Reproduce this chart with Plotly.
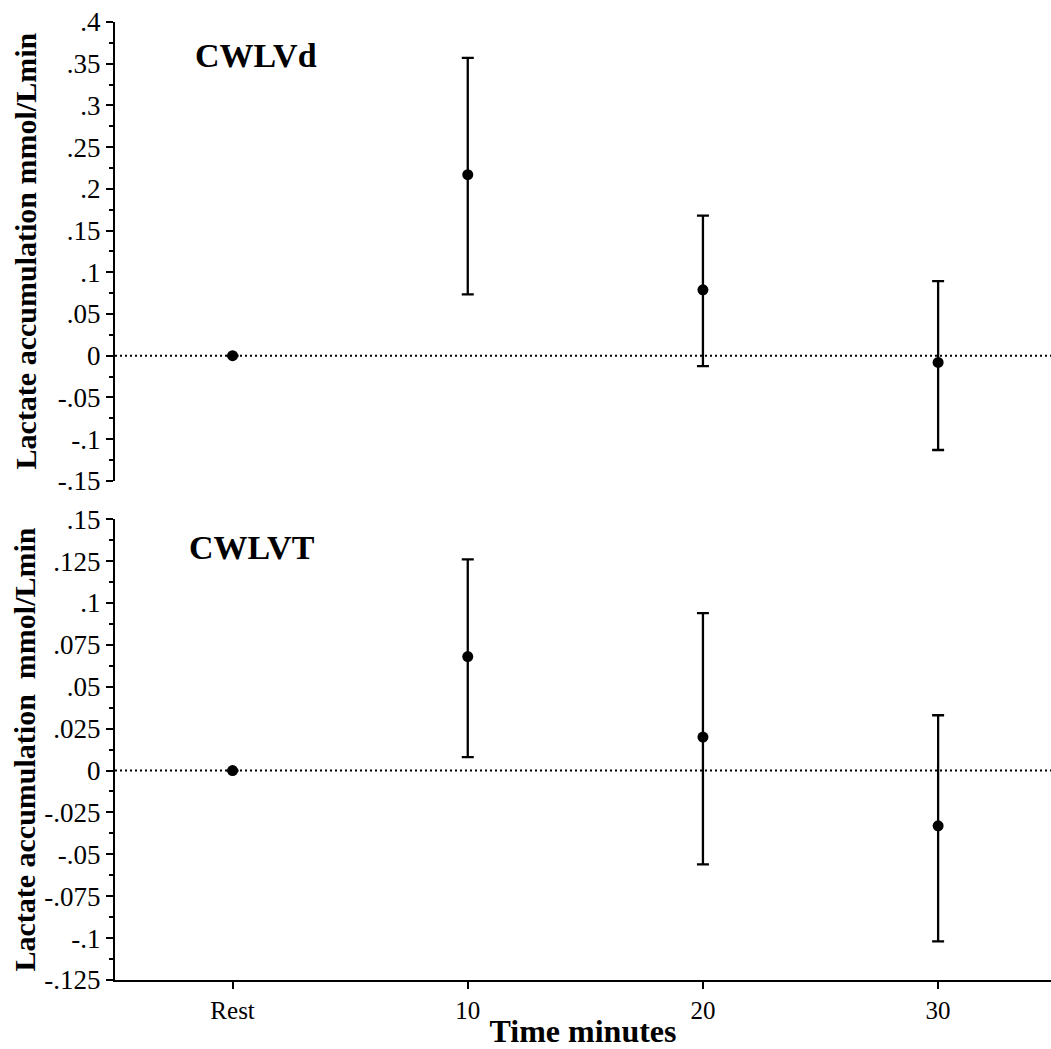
import plotly.graph_objects as go

# ---- data ----
time_vals = [0, 10, 20, 30]
time_labels = ["Rest", "10", "20", "30"]

cwlvd_mean = [0.0, 0.217, 0.079, -0.008]
cwlvd_upper = [0.0, 0.357, 0.168, 0.0895]
cwlvd_lower = [0.0, 0.0735, -0.0124, -0.113]

cwlvt_mean = [0.0, 0.068, 0.020, -0.033]
cwlvt_upper = [0.0, 0.126, 0.094, 0.033]
cwlvt_lower = [0.0, 0.008, -0.056, -0.102]

top_ticks = [0.4, 0.35, 0.3, 0.25, 0.2, 0.15, 0.1, 0.05, 0, -0.05, -0.1, -0.15]
top_ticktext = [".4", ".35", ".3", ".25", ".2", ".15", ".1", ".05", "0", "-.05", "-.1", "-.15"]
bot_ticks = [0.15, 0.125, 0.1, 0.075, 0.05, 0.025, 0, -0.025, -0.05, -0.075, -0.1, -0.125]
bot_ticktext = [".15", ".125", ".1", ".075", ".05", ".025", "0", "-.025", "-.05", "-.075", "-.1", "-.125"]

FONT = "Liberation Serif"

def err(mean, upper, lower):
    return dict(
        type="data", symmetric=False,
        array=[u - m for u, m in zip(upper, mean)],
        arrayminus=[m - l for m, l in zip(mean, lower)],
        color="black", thickness=2.3, width=6,
    )

fig = go.Figure()
fig.add_trace(go.Scatter(
    x=time_vals, y=cwlvd_mean, mode="markers",
    marker=dict(color="black", size=11),
    error_y=err(cwlvd_mean, cwlvd_upper, cwlvd_lower),
    xaxis="x", yaxis="y", showlegend=False,
))
fig.add_trace(go.Scatter(
    x=time_vals, y=cwlvt_mean, mode="markers",
    marker=dict(color="black", size=11),
    error_y=err(cwlvt_mean, cwlvt_upper, cwlvt_lower),
    xaxis="x2", yaxis="y2", showlegend=False,
))

xrange = [-5.0, 34.8]
yaxis_common = dict(
    showline=True, linecolor="black", linewidth=2,
    ticks="outside", ticklen=7, tickwidth=2, tickcolor="black",
    showgrid=False, zeroline=False,
    tickfont=dict(family=FONT, size=27, color="black"),
    tickmode="array",
)

fig.update_layout(
    width=1051, height=1049,
    margin=dict(l=115, r=0, t=22, b=69),
    plot_bgcolor="white", paper_bgcolor="white",
    xaxis=dict(domain=[0, 1], range=xrange, visible=False, anchor="y"),
    yaxis=dict(domain=[0.521, 1], range=[-0.15, 0.4],
               tickvals=top_ticks, ticktext=top_ticktext, anchor="x",
               minor=dict(dtick=0.025, tick0=0, ticks="outside", ticklen=4,
                          tickwidth=1.5, tickcolor="black"),
               **yaxis_common),
    xaxis2=dict(domain=[0, 1], range=xrange, anchor="y2",
                showline=True, linecolor="black", linewidth=2,
                ticks="outside", ticklen=7, tickwidth=2, tickcolor="black",
                showgrid=False, zeroline=False,
                tickmode="array", tickvals=time_vals, ticktext=time_labels,
                tickfont=dict(family=FONT, size=25, color="black"),
                title=dict(text="<b>Time minutes</b>", standoff=2,
                           font=dict(family=FONT, size=32, color="black"))),
    yaxis2=dict(domain=[0, 0.481], range=[-0.125, 0.15],
                tickvals=bot_ticks, ticktext=bot_ticktext, anchor="x2",
                minor=dict(dtick=0.0125, tick0=0, ticks="outside", ticklen=4,
                           tickwidth=1.5, tickcolor="black"),
                **yaxis_common),
)

# dotted zero lines
for xr, yr in [("x", "y"), ("x2", "y2")]:
    fig.add_shape(type="line", xref=f"{xr} domain", yref=yr,
                  x0=0, x1=1, y0=0, y1=0,
                  line=dict(color="black", width=2, dash="2px,3px"),
                  layer="below")

# panel labels
fig.add_annotation(text="<b>CWLVd</b>", xref="x domain", yref="y domain",
                   x=0.083, y=0.926, xanchor="left", yanchor="middle",
                   showarrow=False, font=dict(family=FONT, size=34, color="black"))
fig.add_annotation(text="<b>CWLVT</b>", xref="x2 domain", yref="y2 domain",
                   x=0.077, y=0.939, xanchor="left", yanchor="middle",
                   showarrow=False, font=dict(family=FONT, size=34, color="black"))

# y-axis titles
title_x = (25 - 115) / 936
fig.add_annotation(text="<b>Lactate accumulation mmol/Lmin</b>", xref="paper", yref="y domain",
                   x=title_x, y=0.5, xanchor="center", yanchor="middle", textangle=-90,
                   showarrow=False, font=dict(family=FONT, size=30, color="black"))
fig.add_annotation(text="<b>Lactate accumulation  mmol/Lmin</b>", xref="paper", yref="y2 domain",
                   x=title_x, y=0.5, xanchor="center", yanchor="middle", textangle=-90,
                   showarrow=False, font=dict(family=FONT, size=30, color="black"))

fig.write_html("out.html")
